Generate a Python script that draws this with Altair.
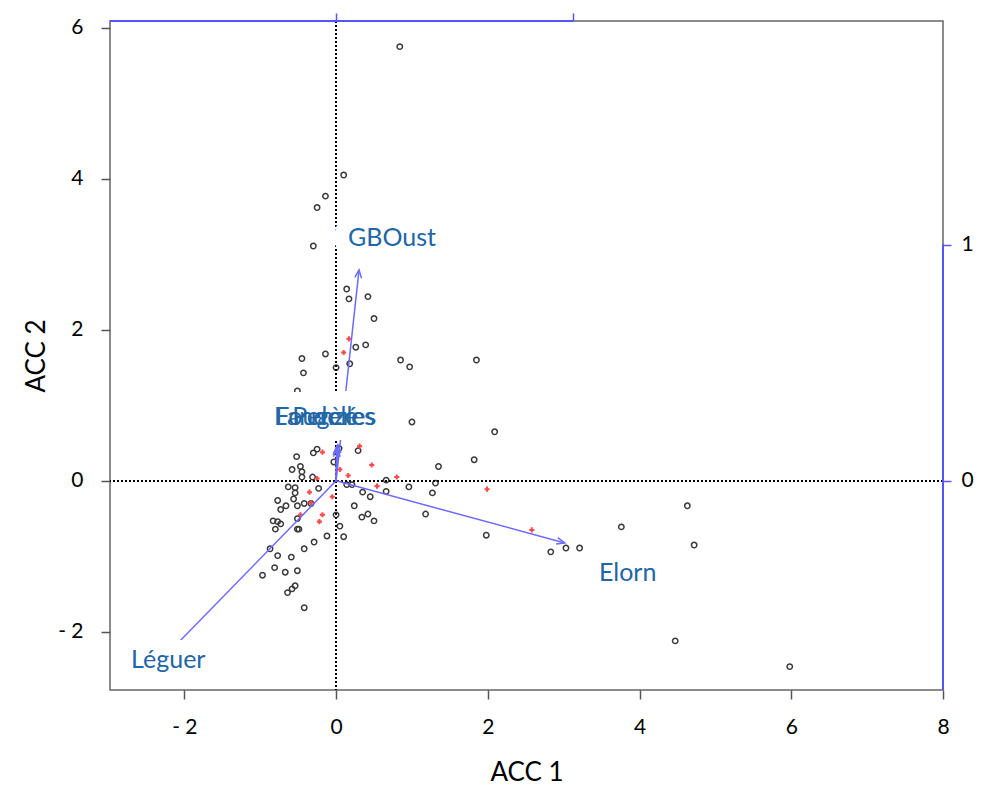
import altair as alt
import pandas as pd

# ---- data: site scores (ACC 1, ACC 2) ----
circle_x = [0.84, 0.10, -0.14, -0.25, -0.30, 0.14, 0.17, 0.42, 0.50, -0.45, -0.14, -0.43, 0.26, 0.39,
            0.18, 0.00, 0.85, 0.97, -0.51, 1.00, 1.85, 2.09, 1.82, 1.35, 1.31, 1.27, 1.18, 1.98, 2.83,
            3.03, 3.21, 3.76, 4.63, 4.72, 4.47, 5.98,
            -0.25, -0.30, 0.04, -0.03, 0.29, -0.52, -0.47, -0.58, -0.45, -0.45, -0.31, 0.66, 0.96, -0.63,
            -0.54, -0.23, 0.14, 0.21, 0.66, -0.54, 0.35, 0.45, -0.56, -0.77, -0.66, -0.73, -0.51, -0.42,
            -0.33, 0.24, 0.00, -0.83, -0.77, -0.73, -0.80, -0.51, -0.49, -0.51, 0.05, 0.34, 0.42, 0.50,
            -0.12, 0.10, -0.29, -0.42, -0.87, -0.77, -0.59, -0.81, -0.67, -0.51, -0.97, -0.54, -0.58,
            -0.64, -0.42]
circle_y = [5.75, 4.05, 3.77, 3.62, 3.11, 2.54, 2.41, 2.44, 2.15, 1.62, 1.68, 1.43, 1.77, 1.80,
            1.55, 1.50, 1.60, 1.51, 1.19, 0.78, 1.60, 0.65, 0.28, 0.19, -0.03, -0.16, -0.44, -0.72, -0.94,
            -0.89, -0.89, -0.61, -0.33, -0.85, -2.12, -2.46,
            0.42, 0.37, 0.43, 0.25, 0.40, 0.32, 0.19, 0.15, 0.12, 0.05, 0.05, 0.01, -0.08, -0.08,
            -0.09, -0.10, -0.05, -0.05, -0.14, -0.16, -0.15, -0.21, -0.24, -0.26, -0.33, -0.38, -0.33, -0.30,
            -0.30, -0.33, -0.45, -0.53, -0.54, -0.57, -0.64, -0.50, -0.64, -0.64, -0.60, -0.48, -0.44, -0.53,
            -0.73, -0.74, -0.81, -0.90, -0.90, -0.99, -1.01, -1.15, -1.21, -1.19, -1.25, -1.39, -1.43,
            -1.48, -1.68]

# ---- data: species / class scores (red plus signs) ----
plus_x = [0.17, 0.10, -0.18, 0.31, 0.47, 0.05, 0.16, 0.80, 0.54, -0.35, -0.25, -0.05, -0.33, -0.47,
          -0.18, -0.22, 1.99, 2.58]
plus_y = [1.88, 1.70, 0.38, 0.46, 0.21, 0.15, 0.07, 0.05, -0.07, -0.15, 0.03, -0.21, -0.29, -0.45,
          -0.45, -0.54, -0.11, -0.65]

# ---- data: explanatory variables (arrows, secondary scale) ----
arrow_names = ["GBOust", "Elorn", "Léguer", "Penzé", "Landelles", "Fougères"]
arrow_x = [0.097, 0.966, -0.700, 0.008, 0.004, 0.002]
arrow_y = [0.894, -0.263, -0.720, 0.153, 0.136, 0.145]
label_x = [0.236, 1.232, -0.709, -0.046, -0.046, -0.046]
label_y = [1.030, -0.390, -0.758, 0.270, 0.270, 0.270]

# ---- axes ----
x_ticks = [-2, 0, 2, 4, 6, 8]
y_ticks = [-2, 0, 2, 4, 6]
sec_ticks = [0, 1]
x_domain = [-2.98, 8.0]
y_domain = [-2.77, 6.09]
ratio_x = 3.12
ratio_y = 3.126
sec_x_domain = [x_domain[0] / ratio_x, x_domain[1] / ratio_x]
sec_y_domain = [y_domain[0] / ratio_y, y_domain[1] / ratio_y]

W, H = 833, 669
FONT = "Lato"
ARROW_COL = "#6b6bff"
LABEL_COL = "#2166a6"

df_c = pd.DataFrame({"x": circle_x, "y": circle_y})
df_p = pd.DataFrame({"x": plus_x, "y": plus_y})
df_a = pd.DataFrame({"name": arrow_names, "ax": arrow_x, "ay": arrow_y, "lx": label_x, "ly": label_y})

neg_fmt = "datum.value < 0 ? '- ' + format(abs(datum.value), 'd') : format(datum.value, 'd')"

xs = alt.Scale(domain=x_domain, nice=False, zero=False)
ys = alt.Scale(domain=y_domain, nice=False, zero=False)
x_axis = alt.Axis(values=x_ticks, title="ACC 1", orient="bottom", domain=False, grid=False,
                  tickColor="#555555", tickSize=9, tickWidth=1.5, labelPadding=17,
                  labelFontSize=21, labelColor="black", labelFont=FONT, labelExpr=neg_fmt,
                  labelFlush=False, labelOverlap=False,
                  titleFont=FONT, titleFontSize=26, titleFontWeight="normal", titleColor="black",
                  titlePadding=22)
y_axis = alt.Axis(values=y_ticks, title="ACC 2", orient="left", domain=False, grid=False,
                  tickColor="#555555", tickSize=9, tickWidth=1.5, labelPadding=18,
                  labelFontSize=21, labelColor="black", labelFont=FONT, labelExpr=neg_fmt,
                  labelFlush=False, labelOverlap=False,
                  titleFont=FONT, titleFontSize=26, titleFontWeight="normal", titleColor="black",
                  titlePadding=8)

points = alt.Chart(df_c).mark_point(shape="circle", filled=False, color="#3a3a3a", size=29,
                                    strokeWidth=1.5, opacity=1).encode(
    x=alt.X("x:Q", scale=xs, axis=x_axis),
    y=alt.Y("y:Q", scale=ys, axis=y_axis),
)
plus = alt.Chart(df_p).mark_point(shape="cross", filled=True, color="#ff4a4a", size=26, opacity=1).encode(
    x=alt.X("x:Q", scale=xs),
    y=alt.Y("y:Q", scale=ys),
)
vline = alt.Chart(df_c).mark_rule(color="black", strokeDash=[1.5, 2.5], strokeWidth=1.2).encode(
    x=alt.datum(0, scale=xs)
)
hline = alt.Chart(df_c).mark_rule(color="black", strokeDash=[1.5, 2.5], strokeWidth=1.2).encode(
    y=alt.datum(0, scale=ys)
)
primary = alt.layer(points, plus, vline, hline)

# ---- secondary (arrow) scale ----
sxs = alt.Scale(domain=sec_x_domain, nice=False, zero=False)
sys_ = alt.Scale(domain=sec_y_domain, nice=False, zero=False)
sx_axis = alt.Axis(values=sec_ticks, orient="top", labels=False, title=None, domain=False, grid=False,
                   tickColor="#5555ff", tickSize=8, tickWidth=1.5)
sy_axis = alt.Axis(values=sec_ticks, orient="right", title=None, domain=False, grid=False,
                   tickColor="#5555ff", tickSize=8, tickWidth=1.5, labelPadding=10,
                   labelFontSize=21, labelColor="black", labelFont=FONT, format="d",
                   labelFlush=False, labelOverlap=False)

base_a = alt.Chart(df_a).transform_calculate(x0="0", y0="0")

arrows = base_a.mark_rule(color=ARROW_COL, strokeWidth=1.5).encode(
    x=alt.X("x0:Q", scale=sxs, axis=sx_axis),
    y=alt.Y("y0:Q", scale=sys_, axis=sy_axis),
    x2="ax:Q",
    y2="ay:Q",
)
heads = base_a.transform_calculate(
    ang=f"(atan2(datum.ax * {ratio_x}, datum.ay * {ratio_y}) * 180 / PI + 360) % 360"
).mark_point(shape="M-0.5,1.2L0,0L0.5,1.2", filled=False, color=ARROW_COL, size=180,
             strokeWidth=1.5, opacity=1).encode(
    x=alt.X("ax:Q", scale=sxs),
    y=alt.Y("ay:Q", scale=sys_),
    angle=alt.Angle("ang:Q", scale=None),
)
halo = base_a.mark_text(font=FONT, fontSize=25, color="white", stroke="white", strokeWidth=30,
                        strokeJoin="round", align="center", baseline="middle").encode(
    x=alt.X("lx:Q", scale=sxs),
    y=alt.Y("ly:Q", scale=sys_),
    text="name:N",
)
labels = base_a.mark_text(font=FONT, fontSize=25, color=LABEL_COL, align="center",
                          baseline="middle").encode(
    x=alt.X("lx:Q", scale=sxs),
    y=alt.Y("ly:Q", scale=sys_),
    text="name:N",
)
# blue axis lines spanning from the scale edge to the last tick
top_line = alt.Chart(df_a).mark_rule(color="#5555ff", strokeWidth=1.5).encode(
    x=alt.datum(sec_x_domain[0], scale=sxs),
    x2=alt.datum(sec_ticks[-1]),
    y=alt.datum(sec_y_domain[1], scale=sys_),
)
right_line = alt.Chart(df_a).mark_rule(color="#5555ff", strokeWidth=1.5).encode(
    x=alt.datum(sec_x_domain[1], scale=sxs),
    y=alt.datum(sec_y_domain[0], scale=sys_),
    y2=alt.datum(sec_ticks[-1]),
)
secondary = alt.layer(arrows, heads, halo, labels, top_line, right_line)

chart = alt.layer(primary, secondary).resolve_scale(
    x="independent", y="independent"
).properties(
    width=W, height=H,
    autosize=alt.AutoSizeParams(type="none"),
    padding={"left": 110, "top": 21, "right": 41, "bottom": 97},
    background="white",
).configure_view(stroke="#666666", strokeWidth=1.5)

chart.save("out.html", embed_options={"renderer": "svg", "actions": False})
